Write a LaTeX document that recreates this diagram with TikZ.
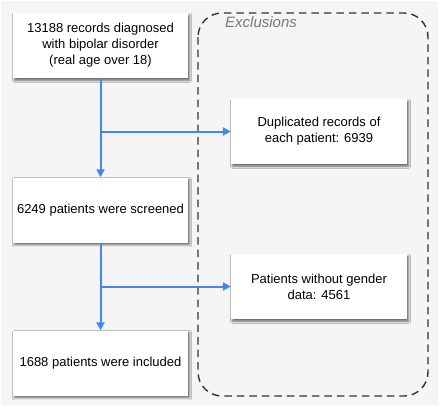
\documentclass[tikz,border=0pt]{standalone}
\usepackage{fontspec}
\setmainfont{Liberation Sans}
\usetikzlibrary{arrows.meta,shadows.blur}
\definecolor{bgc}{RGB}{245,245,245}
\definecolor{flowblue}{RGB}{66,133,244}
\definecolor{dashc}{RGB}{50,50,50}
\definecolor{lblc}{RGB}{120,120,120}
\tikzset{
  stepbox/.style={fill=white, draw=none, align=center, inner sep=0pt,
    minimum width=175pt, minimum height=65pt,
    font=\fontsize{13}{16}\selectfont,
    blur shadow={shadow xshift=1.5pt, shadow yshift=-2.2pt, shadow blur radius=2.2pt, shadow opacity=60}},
  flow/.style={draw=flowblue, line width=2pt},
  flowarr/.style={flow, -{Triangle[length=8pt,width=8pt]}},
  exclbox/.style={draw=dashc, line width=1.4pt, dash pattern=on 7.5pt off 5pt, rounded corners=24pt},
}
\begin{document}
\begin{tikzpicture}[x=1pt,y=-1pt]
\useasboundingbox (0,0) rectangle (440,408);
\fill[white] (0,0) rectangle (440,408);
\fill[bgc] (1,1) rectangle (438,405);
\draw[exclbox] (198,13) rectangle (428,396);
\node[anchor=west, inner sep=0pt, text=lblc, font=\fontsize{15}{18}\selectfont\itshape] (lbl) at (225,22) {Exclusions};
\node[stepbox] (b1) at (100.5,45.5) {13188 records diagnosed\\with bipolar disorder\\(real age over 18)};
\node[stepbox] (b2) at (100.5,210) {6249 patients were screened};
\node[stepbox] (b3) at (100.5,363) {1688 patients were included};
\node[stepbox, minimum width=176pt] (dup) at (319,131.5) {Duplicated records of\\each patient: 6939};
\node[stepbox, minimum width=176pt] (gen) at (319,286.5) {Patients without gender\\data: 4561};
\coordinate (j1) at (b1.south |- dup.west);
\coordinate (j2) at (b2.south |- gen.west);
\draw[flowarr] (b1.south) -- (b2.north);
\draw[flowarr] (j1) -- (dup.west);
\draw[flowarr] (b2.south) -- (b3.north);
\draw[flowarr] (j2) -- (gen.west);
\end{tikzpicture}
\end{document}
